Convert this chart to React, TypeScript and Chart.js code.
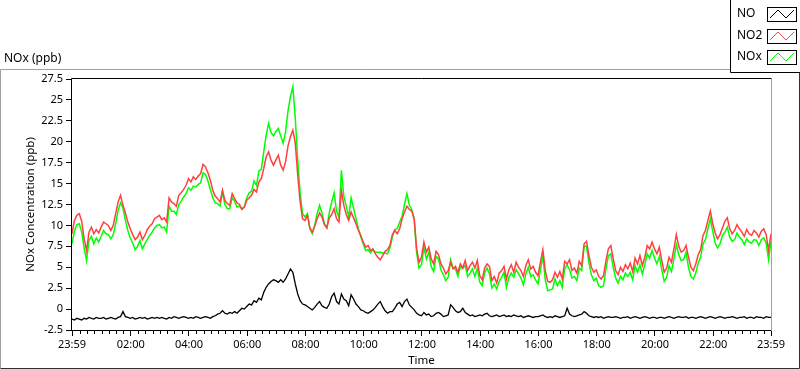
import React, { useEffect, useRef } from 'react';
import { Chart, registerables } from 'chart.js';

Chart.register(...registerables);

// Sampling interval of the series (minutes after 23:59 of the previous day)
const SAMPLE_STEP_MIN = 5;

const SERIES_NAMES = ['NO', 'NO2', 'NOx'];
const SERIES_COLORS = ['#000000', '#ff4040', '#00ff00'];

// NO (ppb), one value every 5 minutes from 23:59 to 23:59
const NO = [
  -1.2, -1.3, -1.1, -1.2, -1.3, -1.1, -1.2, -1.0, -1.1, -1.2, -1.0, -1.1,
  -1.1, -1.0, -1.2, -1.1, -1.0, -1.1, -1.2, -1.0, -0.9, -0.3, -0.9, -1.0,
  -1.1, -1.0, -1.2, -1.1, -1.0, -1.1, -1.0, -1.2, -1.1, -1.0, -1.1, -1.0,
  -1.1, -1.0, -1.1, -1.2, -1.0, -1.1, -0.9, -1.0, -1.1, -1.0, -0.9, -1.0,
  -1.1, -1.0, -1.1, -0.9, -1.0, -1.1, -1.0, -0.9, -1.0, -1.1, -0.9, -0.8,
  -0.6, -0.5, -0.2, -0.5, -0.6, -0.4, -0.5, -0.3, -0.5, -0.2, 0.1, 0.0,
  0.3, 0.6, 0.5, 1.0, 0.8, 1.3, 1.1, 2.0, 2.6, 3.0, 3.3, 3.5,
  3.4, 3.2, 3.5, 3.2, 3.6, 4.2, 4.8, 4.4, 3.0, 1.8, 1.0, 0.6,
  0.5, 0.3, 0.1, -0.1, 0.2, 0.6, 0.9, 0.4, 0.2, 0.1, 0.6, 1.5,
  1.9, 0.9, 0.6, 1.8, 1.2, 1.0, 0.4, 1.7, 1.2, 0.6, 0.3, -0.1,
  -0.2, -0.4, -0.5, -0.3, -0.1, 0.2, 0.6, 0.9, 0.3, -0.2, -0.5, -0.3,
  -0.3, 0.1, 0.6, 0.8, 0.3, 0.9, 1.2, 0.5, 0.2, -0.1, -0.5, -0.7,
  -0.8, -0.4, -0.7, -0.6, -0.9, -0.8, -0.5, -0.4, -0.6, -0.9, -0.8, -0.7,
  0.5, 0.2, -0.2, -0.4, -0.3, 0.1, -0.4, -0.6, -0.8, -0.7, -0.9, -0.8,
  -0.7, -0.8, -0.6, -0.5, -0.8, -0.9, -0.8, -0.7, -0.9, -0.8, -0.7, -0.9,
  -0.8, -0.9, -0.7, -0.8, -0.9, -0.8, -1.0, -0.9, -0.8, -0.9, -1.0, -0.9,
  -0.9, -0.8, -0.7, -0.9, -1.0, -0.9, -1.0, -0.8, -0.9, -1.0, -0.9, -0.8,
  0.1, -0.6, -0.8, -0.9, -0.8, -0.7, -0.6, -0.3, -0.5, -0.8, -0.9, -1.0,
  -0.9, -1.0, -0.9, -1.1, -1.0, -0.9, -1.0, -1.0, -0.9, -1.0, -1.1, -1.0,
  -1.0, -0.9, -1.1, -1.0, -0.9, -1.0, -1.1, -1.0, -0.9, -1.0, -1.1, -1.0,
  -1.0, -1.1, -1.0, -1.0, -1.1, -1.0, -0.9, -1.0, -1.1, -1.0, -0.9, -1.0,
  -1.0, -0.9, -1.1, -1.0, -1.0, -1.1, -1.0, -0.9, -1.0, -1.1, -1.0, -0.9,
  -1.0, -1.1, -1.0, -0.9, -1.0, -1.1, -1.0, -1.0, -0.9, -1.0, -1.1, -1.0,
  -1.0, -0.9, -1.1, -1.0, -1.0, -1.1, -0.9, -1.0, -1.0, -1.1, -0.9, -1.0, -1.0,
];

// NO2 (ppb)
const NO2 = [
  9.0, 10.6, 11.2, 11.4, 10.5, 8.4, 7.0, 9.2, 9.8, 9.0, 9.5, 9.1,
  9.8, 10.4, 10.2, 10.0, 9.4, 10.0, 11.4, 12.8, 13.6, 12.4, 11.5, 10.4,
  9.6, 8.9, 8.3, 8.6, 9.2, 8.3, 8.8, 9.5, 9.9, 10.2, 10.8, 11.0,
  11.2, 10.7, 10.9, 10.4, 13.3, 12.8, 12.6, 12.3, 13.6, 13.9, 14.3, 14.8,
  15.6, 15.2, 15.8, 15.5, 15.9, 16.2, 17.3, 17.0, 16.3, 15.4, 14.2, 13.5,
  13.2, 12.8, 14.2, 13.0, 12.6, 12.4, 13.8, 13.2, 12.7, 12.5, 11.9, 12.2,
  13.0, 13.3, 13.6, 14.3, 14.0, 15.2, 15.6, 16.8, 18.2, 18.8, 17.8, 17.2,
  17.8, 18.4, 17.2, 16.6, 17.6, 19.5, 20.6, 21.4, 19.8, 16.0, 12.8, 10.8,
  10.6, 11.2, 9.7, 9.2, 9.9, 10.8, 11.5, 11.0, 10.1, 9.7, 10.9, 11.3,
  12.0, 10.8, 10.4, 14.2, 12.4, 11.3, 10.6, 11.6, 10.9, 10.2, 9.4, 8.8,
  8.0, 7.4, 7.6, 7.0, 7.2, 6.6, 6.2, 5.9, 6.4, 6.9, 7.1, 7.6,
  8.9, 9.4, 9.0, 9.6, 10.8, 11.6, 12.3, 11.9, 11.7, 10.8, 7.2, 5.6,
  6.2, 8.0, 6.8, 7.4, 6.0, 5.4, 6.9, 6.5, 5.4, 4.9, 4.2, 4.6,
  5.6, 4.8, 5.1, 4.4, 5.4, 4.9, 5.8, 4.6, 5.2, 5.6, 4.9, 5.8,
  4.0, 3.5, 4.9, 5.4, 5.1, 3.4, 3.9, 3.1, 4.3, 4.6, 5.1, 3.6,
  4.7, 5.3, 4.4, 5.6, 5.0, 4.6, 3.9, 5.2, 5.9, 4.8, 5.1, 4.4,
  4.0, 5.6, 7.1, 4.6, 3.3, 3.2, 3.5, 4.4, 3.8, 4.5, 3.6, 5.7,
  5.4, 5.9, 4.6, 4.9, 4.3, 5.7, 5.2, 7.8, 8.1, 6.4, 5.0, 4.4,
  4.7, 3.9, 3.6, 4.0, 5.8, 7.2, 7.6, 6.0, 4.6, 4.1, 5.0, 4.5,
  5.3, 4.8, 5.5, 4.5, 6.1, 5.4, 6.4, 5.2, 6.2, 7.6, 7.2, 8.0,
  7.2, 6.6, 7.4, 5.8, 4.4, 4.9, 6.2, 5.6, 7.2, 8.9, 7.5, 6.8,
  7.0, 7.6, 6.2, 5.0, 4.6, 5.4, 6.5, 7.1, 8.8, 9.4, 10.6, 11.7,
  10.2, 9.1, 8.4, 8.9, 9.7, 10.5, 10.9, 9.6, 9.0, 9.4, 10.1, 9.6,
  9.2, 8.7, 9.5, 9.0, 8.8, 9.4, 9.1, 8.6, 9.3, 9.6, 8.9, 7.0, 9.0,
];

// NOx (ppb)
const NOX = [
  7.8, 9.3, 10.1, 10.2, 9.2, 7.3, 5.8, 8.2, 8.7, 7.8, 8.5, 8.0,
  8.7, 9.4, 9.0, 8.9, 8.4, 8.9, 10.2, 11.8, 12.7, 12.1, 10.6, 9.4,
  8.5, 7.9, 7.1, 7.5, 8.2, 7.2, 7.8, 8.3, 8.8, 9.2, 9.7, 10.0,
  10.1, 9.7, 9.8, 9.2, 12.3, 11.7, 11.7, 11.3, 12.5, 12.9, 13.4, 13.8,
  14.5, 14.2, 14.7, 14.6, 14.9, 15.1, 16.3, 16.1, 15.3, 14.3, 13.3, 12.7,
  12.6, 12.3, 14.0, 12.5, 12.0, 12.0, 13.3, 12.9, 12.2, 12.3, 12.0, 12.2,
  13.3, 13.9, 14.1, 15.3, 14.8, 16.5, 16.7, 18.8, 20.8, 22.2, 21.1, 20.7,
  21.2, 21.6, 20.7, 19.8, 21.2, 23.7, 25.4, 26.6, 22.8, 17.8, 13.8, 11.4,
  11.0, 11.4, 9.6, 9.0, 10.0, 11.4, 12.4, 11.5, 10.2, 9.7, 11.5, 12.8,
  13.9, 11.7, 11.0, 16.6, 13.5, 12.3, 11.0, 13.3, 12.1, 10.8, 9.6, 8.6,
  7.8, 7.0, 7.1, 6.7, 7.1, 6.8, 6.8, 6.8, 6.7, 6.7, 6.6, 7.3,
  8.6, 9.5, 9.6, 10.4, 11.1, 12.5, 13.8, 12.4, 11.9, 10.7, 6.7, 4.9,
  5.3, 7.4, 6.0, 6.8, 5.1, 4.5, 6.3, 6.0, 4.7, 4.1, 3.4, 3.8,
  5.9, 4.9, 4.8, 3.9, 5.0, 4.9, 5.2, 3.9, 4.3, 4.8, 3.9, 4.9,
  3.2, 2.8, 4.3, 4.9, 4.2, 2.5, 3.0, 2.4, 3.3, 3.8, 4.4, 2.6,
  3.8, 4.3, 3.8, 4.7, 4.2, 3.7, 2.9, 4.2, 5.0, 3.9, 4.1, 3.5,
  3.0, 4.7, 6.3, 3.5, 2.2, 2.3, 2.4, 3.6, 2.8, 3.4, 2.6, 4.8,
  5.3, 4.7, 3.7, 3.9, 3.4, 4.9, 4.6, 7.5, 7.5, 5.5, 4.1, 3.4,
  3.7, 2.8, 2.6, 2.8, 4.8, 6.4, 6.6, 5.0, 3.7, 3.1, 3.9, 3.5,
  4.3, 3.9, 4.4, 3.5, 5.2, 4.4, 5.3, 4.2, 5.3, 6.6, 6.1, 7.0,
  6.1, 5.4, 6.3, 4.7, 3.3, 3.8, 5.2, 4.5, 6.0, 7.7, 6.5, 5.8,
  5.9, 6.8, 5.0, 3.9, 3.6, 4.3, 5.5, 6.2, 7.8, 8.3, 9.6, 10.8,
  9.3, 7.9, 7.3, 7.8, 8.8, 9.2, 9.8, 8.6, 8.1, 8.3, 9.1, 8.6,
  8.3, 7.7, 8.4, 8.0, 7.9, 8.3, 8.2, 7.6, 8.3, 8.5, 7.9, 5.9, 8.1,
];

// X axis: minutes after 23:59 (previous day)
const X_MIN = 0;
const X_MAX = 1440;
const TICK_MINUTES = [0, 121, 241, 361, 481, 601, 721, 841, 961, 1081, 1201, 1321, 1440];
const TICK_LABELS = ['23:59', '02:00', '04:00', '06:00', '08:00', '10:00', '12:00', '14:00', '16:00', '18:00', '20:00', '22:00', '23:59'];
const MINOR_TICK_STEP = 15;

// Y axis
const Y_MIN = -2.5;
const Y_MAX = 27.5;
const Y_TICKS = [-2.5, 0, 2.5, 5, 7.5, 10, 12.5, 15, 17.5, 20, 22.5, 25, 27.5];
const Y_TICK_LABELS = ['-2.5', '0', '2.5', '5', '7.5', '10', '12.5', '15', '17.5', '20', '22.5', '25', '27.5'];

const CHART_TITLE = 'NOx (ppb)';
const Y_TITLE = 'NOx Concentration (ppb)';
const X_TITLE = 'Time';

const FONT = "'Noto Sans', 'DejaVu Sans', sans-serif";

const toPoints = (arr: number[]) => arr.map((v, i) => ({ x: i * SAMPLE_STEP_MIN, y: v }));

const decorPlugin = {
  id: 'decor',
  beforeDraw(chart: any) {
    const ctx = chart.ctx;
    ctx.save();
    ctx.fillStyle = '#ffffff';
    ctx.fillRect(0, 0, chart.width, chart.height);
    ctx.restore();
  },
  afterDraw(chart: any) {
    const ctx = chart.ctx as CanvasRenderingContext2D;
    const { left, top, right, bottom } = chart.chartArea;
    const xs = chart.scales.x;
    ctx.save();
    ctx.lineWidth = 1;

    // outer panel frame
    ctx.strokeStyle = '#a0a0a0';
    ctx.beginPath();
    ctx.moveTo(0.5, 368.5);
    ctx.lineTo(0.5, 69.5);
    ctx.lineTo(730.5, 69.5);
    ctx.stroke();
    ctx.strokeStyle = '#303030';
    ctx.beginPath();
    ctx.moveTo(0.5, 368.5);
    ctx.lineTo(799.5, 368.5);
    ctx.lineTo(799.5, 72.5);
    ctx.stroke();

    // plot area border
    ctx.strokeStyle = '#000000';
    ctx.beginPath();
    ctx.moveTo(left - 0.5, bottom + 0.5);
    ctx.lineTo(left - 0.5, top - 0.5);
    ctx.lineTo(right + 0.5, top - 0.5);
    ctx.stroke();
    ctx.beginPath();
    ctx.moveTo(left - 0.5, bottom + 0.5);
    ctx.lineTo(right + 0.5, bottom + 0.5);
    ctx.stroke();
    ctx.strokeStyle = '#a0a0a0';
    ctx.beginPath();
    ctx.moveTo(right + 0.5, top);
    ctx.lineTo(right + 0.5, bottom + 1);
    ctx.stroke();

    // minor x ticks
    ctx.strokeStyle = '#000000';
    ctx.beginPath();
    for (let m = 1 + MINOR_TICK_STEP; m < X_MAX - 5; m += MINOR_TICK_STEP) {
      if (TICK_MINUTES.indexOf(m) >= 0) continue;
      const px = Math.round(xs.getPixelForValue(m)) + 0.5;
      ctx.moveTo(px, bottom + 1);
      ctx.lineTo(px, bottom + 4);
    }
    ctx.stroke();

    // chart title
    ctx.fillStyle = '#000000';
    ctx.font = `12px ${FONT}`;
    ctx.textBaseline = 'middle';
    ctx.textAlign = 'left';
    ctx.fillText(CHART_TITLE, 4, 59);

    // legend box
    ctx.fillStyle = '#ffffff';
    ctx.fillRect(730, 0, 70, 73);
    ctx.strokeStyle = '#000000';
    ctx.beginPath();
    ctx.moveTo(730.5, 0);
    ctx.lineTo(730.5, 72.5);
    ctx.lineTo(800, 72.5);
    ctx.stroke();
    const centers = [14, 36, 57];
    SERIES_NAMES.forEach((name, i) => {
      const cy = centers[i];
      ctx.fillStyle = '#000000';
      ctx.font = `12px ${FONT}`;
      ctx.textBaseline = 'middle';
      ctx.fillText(name, 737, cy);
      const bx = 767;
      const by = cy - 7;
      ctx.strokeStyle = '#000000';
      ctx.lineWidth = 1;
      ctx.strokeRect(bx + 0.5, by + 0.5, 29, 14);
      ctx.strokeStyle = SERIES_COLORS[i];
      ctx.beginPath();
      ctx.moveTo(bx + 3, by + 11);
      ctx.lineTo(bx + 11, by + 3);
      ctx.lineTo(bx + 19, by + 11);
      ctx.lineTo(bx + 27, by + 3);
      ctx.stroke();
    });

    ctx.restore();
  },
};

export default function App() {
  const canvasRef = useRef<HTMLCanvasElement | null>(null);

  useEffect(() => {
    document.body.style.margin = '0';
    const canvas = canvasRef.current;
    if (!canvas) return;
    const chart = new Chart(canvas, {
      type: 'line',
      data: {
        datasets: [
          { label: SERIES_NAMES[0], data: toPoints(NO), borderColor: SERIES_COLORS[0], borderWidth: 1.3, pointRadius: 0, tension: 0, fill: false },
          { label: SERIES_NAMES[1], data: toPoints(NO2), borderColor: SERIES_COLORS[1], borderWidth: 1.5, pointRadius: 0, tension: 0, fill: false },
          { label: SERIES_NAMES[2], data: toPoints(NOX), borderColor: SERIES_COLORS[2], borderWidth: 1.5, pointRadius: 0, tension: 0, fill: false },
        ],
      },
      options: {
        animation: false,
        responsive: false,
        devicePixelRatio: 1,
        events: [],
        layout: { padding: { left: 0, top: 79, right: 29, bottom: 0 } },
        plugins: {
          legend: { display: false },
          tooltip: { enabled: false },
          title: { display: false },
        },
        scales: {
          x: {
            type: 'linear',
            min: X_MIN,
            max: X_MAX,
            afterFit: (s: any) => { s.height = 39; },
            afterBuildTicks: (s: any) => { s.ticks = TICK_MINUTES.map((v) => ({ value: v })); },
            ticks: {
              autoSkip: false,
              maxRotation: 0,
              minRotation: 0,
              padding: 2,
              color: '#000000',
              font: { family: FONT, size: 11 },
              callback: (_v: any, i: number) => TICK_LABELS[i],
            },
            grid: { display: true, drawOnChartArea: false, drawTicks: true, tickLength: 6, color: '#000000', lineWidth: 1 },
            border: { display: false },
            title: { display: true, text: X_TITLE, color: '#000000', font: { family: FONT, size: 11.5 }, padding: { top: 0, bottom: 1 } },
          },
          y: {
            type: 'linear',
            min: Y_MIN,
            max: Y_MAX,
            afterFit: (s: any) => { s.width = 72; },
            afterBuildTicks: (s: any) => { s.ticks = Y_TICKS.map((v) => ({ value: v })); },
            ticks: {
              autoSkip: false,
              padding: 3,
              color: '#000000',
              font: { family: FONT, size: 11 },
              callback: (_v: any, i: number) => Y_TICK_LABELS[i],
            },
            grid: { display: true, drawOnChartArea: false, drawTicks: true, tickLength: 6, color: '#000000', lineWidth: 1 },
            border: { display: false },
            title: { display: true, text: Y_TITLE, color: '#000000', font: { family: FONT, size: 11.5 }, padding: { top: 24, bottom: 0 } },
          },
        },
      },
      plugins: [decorPlugin],
    } as any);
    return () => chart.destroy();
  }, []);

  return (
    <div style={{ width: 800, height: 369, position: 'relative' }}>
      <canvas ref={canvasRef} width={800} height={369} style={{ display: 'block' }} />
    </div>
  );
}
